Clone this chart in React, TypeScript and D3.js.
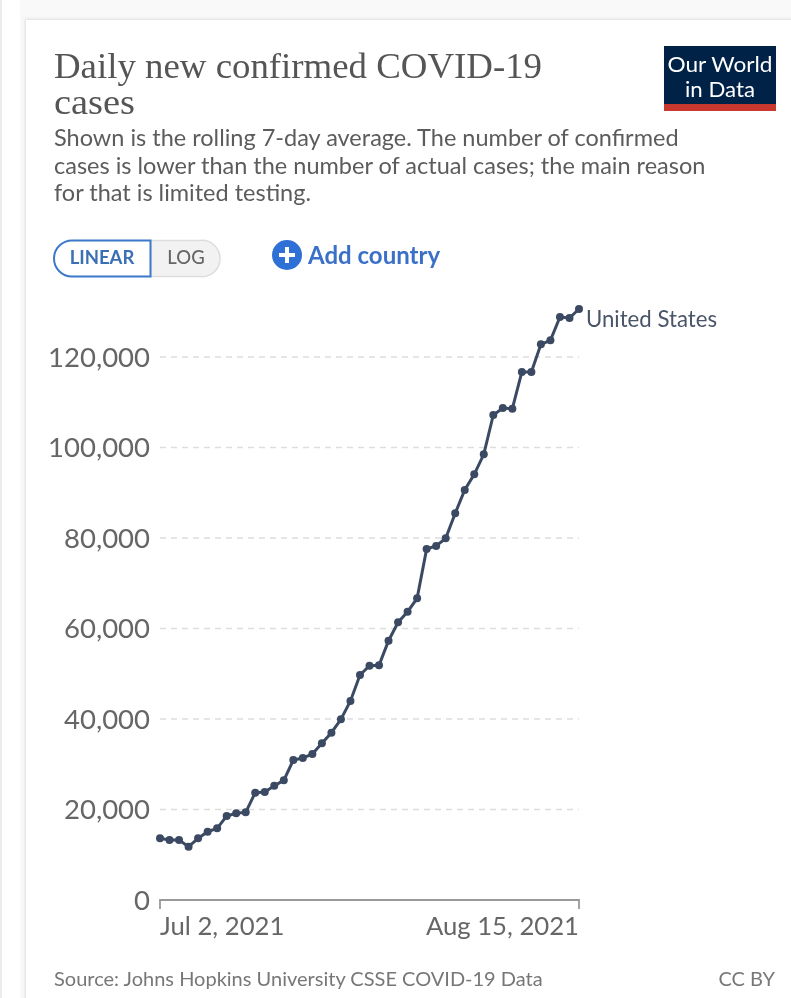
import React from "react";
import * as d3 from "d3";

const W = 791, H = 998;
const startDate = new Date(2021, 6, 2);
const endDate = new Date(2021, 7, 15);
const cases = [13630,13260,13260,11780,13630,15090,15840,18560,19160,19380,23710,23870,25260,26450,30940,31380,32260,34630,36970,39930,43980,49720,51780,51870,57300,61370,63710,66670,77570,78230,79930,85460,90610,94080,98500,107180,108730,108570,116690,116690,122810,123690,128840,128620,130610];
const yTicks = [0,20000,40000,60000,80000,100000,120000];
const xTickLabels = ["Jul 2, 2021","Aug 15, 2021"];
const titleLines = ["Daily new confirmed COVID-19","cases"];
const subtitleLines = ["Shown is the rolling 7-day average. The number of confirmed","cases is lower than the number of actual cases; the main reason","for that is limited testing."];
const seriesName = "United States";
const source = "Source: Johns Hopkins University CSSE COVID-19 Data";
const license = "CC BY";

const SANS = "Lato, 'Open Sans', sans-serif";
const INK = "#3a4a63";
const GREY = "#666";

export default function App() {
  const x = d3.scaleTime().domain([startDate, endDate]).range([160, 579]);
  const y = d3.scaleLinear().domain([0, 120000]).range([900, 357]);
  const dates = cases.map((_, i) => d3.timeDay.offset(startDate, i));
  const line = d3.line<number>().x((_, i) => x(dates[i])).y(d => y(d));
  const fmt = d3.format(",");
  return (
    <svg width={W} height={H} viewBox={`0 0 ${W} ${H}`} style={{position:"absolute",left:0,top:0,background:"#fff"}}>
      <defs>
        <filter id="soft" x="-5%" y="-5%" width="110%" height="110%"><feGaussianBlur stdDeviation="0.55"/></filter>
        <filter id="cardShadow" x="-5%" y="-5%" width="110%" height="110%"><feGaussianBlur stdDeviation="1.5"/></filter>
      </defs>
      <rect x={0} y={0} width={W} height={H} fill="#fff"/>
      <rect x={0} y={0} width={2} height={H} fill="#ececec"/>
      <rect x={20} y={0} width={W-20} height={H} fill="#f9f9f9"/>
      <rect x={25} y={19} width={W} height={H} fill="#ddd" filter="url(#cardShadow)"/>
      <rect x={26} y={20} width={W} height={H} fill="#fff"/>
      <g filter="url(#soft)">
        {titleLines.map((t,i)=>(
          <text key={t} x={54} y={78+i*36} fontFamily="'Liberation Serif', serif" fontSize={35} fill="#555" textLength={i===0?488:81} lengthAdjust="spacingAndGlyphs">{t}</text>
        ))}
        {subtitleLines.map((t,i)=>(
          <text key={t} x={54} y={146+i*27.5} fontFamily={SANS} fontSize={23.5} fill="#5b5b5b">{t}</text>
        ))}
        <rect x={664} y={46} width={112} height={65} fill="#002147"/>
        <rect x={664} y={104} width={112} height={7} fill="#c8392f"/>
        <text x={720} y={72} textAnchor="middle" fontFamily={SANS} fontSize={22} fill="#fff" textLength={105} lengthAdjust="spacingAndGlyphs">Our World</text>
        <text x={720} y={97} textAnchor="middle" fontFamily={SANS} fontSize={22} fill="#fff" textLength={70} lengthAdjust="spacingAndGlyphs">in Data</text>

        <path d="M 150.5 240.5 H 200 a 18 18 0 0 1 20 18 a 18 18 0 0 1 -20 18 H 150.5 Z" fill="#f2f2f2" stroke="#ddd" strokeWidth={1.5}/>
        <path d="M 150.5 240.5 H 72 a 18 18 0 0 0 -18 18 a 18 18 0 0 0 18 18 H 150.5 Z" fill="#fff" stroke="#3a78c9" strokeWidth={2}/>
        <text x={102} y={264} textAnchor="middle" fontFamily={SANS} fontSize={18.5} fontWeight={700} fill="#3a6fb5">LINEAR</text>
        <text x={186} y={264} textAnchor="middle" fontFamily={SANS} fontSize={18.5} fontWeight={500} fill="#666">LOG</text>
        <circle cx={287} cy={255} r={15} fill="#2f6fd6"/>
        <rect x={279} y={253} width={16} height={4} fill="#fff"/>
        <rect x={285} y={247} width={4} height={16} fill="#fff"/>
        <text x={308} y={264} fontFamily={SANS} fontSize={24} fontWeight={700} fill="#3a70c8">Add country</text>

        {yTicks.filter(t=>t>0).map(t=>(
          <line key={t} x1={160} x2={579} y1={y(t)} y2={y(t)} stroke="#ddd" strokeWidth={1.5} strokeDasharray="6 5"/>
        ))}
        {yTicks.map(t=>(
          <text key={t} x={150} y={y(t)+9.5} textAnchor="end" fontFamily={SANS} fontSize={27.5} fill="#666">{fmt(t)}</text>
        ))}
        <path d={`M ${x(startDate)} 909 V ${y(0)} H ${x(endDate)} V 909`} fill="none" stroke="#999" strokeWidth={1.8}/>
        <text x={x(startDate)} y={935} fontFamily={SANS} fontSize={25.7} fill={GREY}>{xTickLabels[0]}</text>
        <text x={x(endDate)} y={935} textAnchor="end" fontFamily={SANS} fontSize={25.7} fill={GREY}>{xTickLabels[1]}</text>

        <path d={line(cases) ?? ""} fill="none" stroke={INK} strokeWidth={3}/>
        {cases.map((c,i)=>(<circle key={i} cx={x(dates[i])} cy={y(c)} r={4} fill={INK}/>))}
        <text x={586} y={327} fontFamily={SANS} fontSize={22.2} fill="#4a5568">{seriesName}</text>

        <text x={54} y={986} fontFamily={SANS} fontSize={20} fill="#777">{source}</text>
        <text x={775} y={986} textAnchor="end" fontFamily={SANS} fontSize={20} fill="#777">{license}</text>
      </g>
    </svg>
  );
}
